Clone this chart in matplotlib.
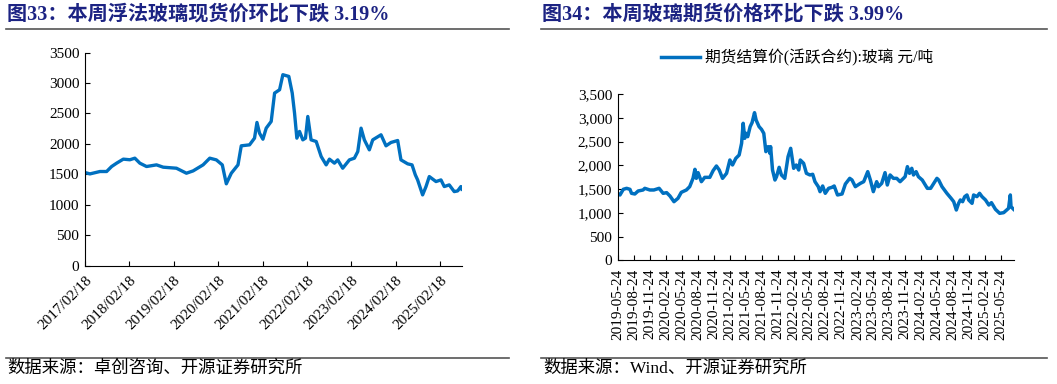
import matplotlib
matplotlib.use("Agg")
import matplotlib.pyplot as plt
import matplotlib.dates as mdates
import matplotlib.transforms as mtransforms
from matplotlib.lines import Line2D
from matplotlib.ticker import FuncFormatter
import pandas as pd

# 图33: 浮法玻璃现货价 (元/吨)
spot_dates = [
    "2017-02-18", "2017-03-31", "2017-06-21", "2017-08-15", "2017-09-25", "2017-11-05",
    "2017-12-30", "2018-02-22", "2018-04-04", "2018-05-15", "2018-07-09", "2018-09-29",
    "2018-11-23", "2019-03-12", "2019-06-02", "2019-07-27", "2019-10-17", "2019-12-11",
    "2020-02-03", "2020-03-23", "2020-04-25", "2020-06-05", "2020-07-30", "2020-08-26",
    "2020-11-02", "2020-12-13", "2021-01-02", "2021-01-23", "2021-02-20", "2021-03-19",
    "2021-04-29", "2021-05-27", "2021-07-07", "2021-08-03", "2021-09-21", "2021-10-19",
    "2021-11-07", "2021-11-26", "2021-12-18", "2022-01-14", "2022-02-05", "2022-02-24",
    "2022-03-23", "2022-05-04", "2022-06-14", "2022-07-25", "2022-08-21", "2022-10-01",
    "2022-10-28", "2022-12-08", "2023-02-01", "2023-03-14", "2023-04-11", "2023-05-08",
    "2023-06-04", "2023-07-15", "2023-08-12", "2023-10-19", "2023-11-29", "2024-01-09",
    "2024-03-04", "2024-03-31", "2024-05-25", "2024-06-30", "2024-07-27", "2024-08-15",
    "2024-09-25", "2024-10-23", "2024-11-19", "2025-01-13", "2025-02-23", "2025-03-22",
    "2025-05-02", "2025-06-12", "2025-07-10", "2025-08-06", "2025-08-14",
]
spot_price = [
    1530, 1508, 1547, 1547, 1629, 1684,
    1750, 1740, 1766, 1684, 1629, 1656,
    1618, 1601, 1519, 1557, 1656, 1766,
    1738, 1656, 1345, 1519, 1656, 1969,
    1985, 2095, 2353, 2177, 2078, 2259,
    2369, 2835, 2890, 3137, 3109, 2835,
    2506, 2095, 2205, 2067, 2095, 2451,
    2067, 2040, 1793, 1656, 1750, 1684,
    1738, 1601, 1738, 1766, 1875, 2259,
    2067, 1903, 2067, 2150, 1969, 2024,
    2056, 1738, 1673, 1656, 1492, 1409,
    1163, 1300, 1464, 1382, 1409, 1300,
    1327, 1217, 1228, 1300, 1256,
]
spot_ticks = ["2017-02-18", "2018-02-18", "2019-02-18", "2020-02-18", "2021-02-18",
              "2022-02-18", "2023-02-18", "2024-02-18", "2025-02-18"]

# 图34: 期货结算价(活跃合约):玻璃 元/吨
fut_dates = [
    "2019-05-24", "2019-06-06", "2019-06-25", "2019-07-14", "2019-08-02", "2019-08-11",
    "2019-08-30", "2019-09-18", "2019-10-16", "2019-10-26", "2019-11-24", "2019-12-17",
    "2020-01-16", "2020-02-08", "2020-02-28", "2020-03-18", "2020-04-10", "2020-05-03",
    "2020-05-22", "2020-06-20", "2020-07-09", "2020-07-28", "2020-08-08", "2020-08-16",
    "2020-08-26", "2020-09-14", "2020-10-03", "2020-11-01", "2020-11-20", "2020-12-09",
    "2020-12-25", "2021-01-13", "2021-02-05", "2021-02-24", "2021-03-11", "2021-03-30",
    "2021-04-18", "2021-05-02", "2021-05-11", "2021-05-20", "2021-05-28", "2021-06-06",
    "2021-06-20", "2021-07-01", "2021-07-15", "2021-07-24", "2021-08-10", "2021-08-24",
    "2021-09-06", "2021-09-18", "2021-10-01", "2021-10-11", "2021-10-15", "2021-10-26",
    "2021-11-09", "2021-11-18", "2021-12-03", "2021-12-16", "2022-01-04", "2022-01-23",
    "2022-02-07", "2022-02-24", "2022-03-11", "2022-03-25", "2022-04-03", "2022-04-22",
    "2022-05-08", "2022-05-28", "2022-06-13", "2022-06-26", "2022-07-15", "2022-07-25",
    "2022-08-09", "2022-08-24", "2022-09-12", "2022-10-01", "2022-10-14", "2022-11-02",
    "2022-11-28", "2022-12-17", "2023-01-11", "2023-01-24", "2023-02-12", "2023-03-13",
    "2023-04-01", "2023-04-24", "2023-05-09", "2023-05-26", "2023-06-14", "2023-06-24",
    "2023-07-13", "2023-08-01", "2023-08-14", "2023-08-30", "2023-09-18", "2023-10-07",
    "2023-10-26", "2023-11-24", "2023-12-07", "2023-12-19", "2024-01-01", "2024-01-11",
    "2024-01-26", "2024-02-08", "2024-03-01", "2024-03-30", "2024-04-18", "2024-05-06",
    "2024-05-24", "2024-06-03", "2024-06-22", "2024-07-20", "2024-08-13", "2024-08-28",
    "2024-09-12", "2024-09-25", "2024-10-05", "2024-10-18", "2024-10-30", "2024-11-12",
    "2024-11-22", "2024-12-11", "2024-12-20", "2025-01-08", "2025-01-23", "2025-02-06",
    "2025-02-26", "2025-03-17", "2025-04-01", "2025-04-24", "2025-05-18", "2025-06-10",
    "2025-07-08", "2025-07-18", "2025-07-22", "2025-08-06",
]
fut_price = [
    1410, 1375, 1494, 1515, 1494, 1410,
    1396, 1459, 1480, 1515, 1480, 1480,
    1515, 1410, 1424, 1354, 1234, 1305,
    1431, 1480, 1550, 1725, 1915, 1725,
    1845, 1655, 1746, 1746, 1887, 1985,
    1901, 1725, 1831, 2111, 2006, 2146,
    2216, 2462, 2883, 2567, 2672, 2602,
    2813, 2897, 3107, 2953, 2813, 2756,
    2672, 2287, 2392, 2251, 2392, 1901,
    1690, 1760, 1957, 1796, 1725, 2181,
    2357, 1936, 2006, 1901, 2111, 2041,
    1831, 1796, 1810, 1655, 1550, 1445,
    1564, 1410, 1515, 1536, 1564, 1375,
    1396, 1606, 1725, 1690, 1550, 1620,
    1655, 1866, 1690, 1445, 1655, 1550,
    1620, 1845, 1585, 1796, 1725, 1725,
    1655, 1760, 1971, 1831, 1936, 1796,
    1866, 1760, 1690, 1515, 1515, 1620,
    1725, 1690, 1550, 1410, 1305, 1234,
    1059, 1199, 1270, 1234, 1340, 1375,
    1270, 1199, 1375, 1340, 1410, 1340,
    1270, 1164, 1213, 1073, 989, 1003,
    1094, 1375, 1129, 1073,
]
fut_ticks = [
    "2019-05-24", "2019-08-24", "2019-11-24", "2020-02-24", "2020-05-24", "2020-08-24",
    "2020-11-24", "2021-02-24", "2021-05-24", "2021-08-24", "2021-11-24", "2022-02-24",
    "2022-05-24", "2022-08-24", "2022-11-24", "2023-02-24", "2023-05-24", "2023-08-24",
    "2023-11-24", "2024-02-24", "2024-05-24", "2024-08-24", "2024-11-24", "2025-02-24",
    "2025-05-24",
]

TITLE_LEFT = "图33：本周浮法玻璃现货价环比下跌 3.19%"
TITLE_RIGHT = "图34：本周玻璃期货价格环比下跌 3.99%"
SOURCE_LEFT = "数据来源：卓创咨询、开源证券研究所"
SOURCE_RIGHT = "数据来源：Wind、开源证券研究所"
LEGEND_LABEL = "期货结算价(活跃合约):玻璃 元/吨"

FONTS = ["Liberation Serif", "Noto Sans CJK SC"]
plt.rcParams["font.family"] = FONTS
LINE_COLOR = "#0070C0"
NAVY = "#1C2383"

fig = plt.figure(figsize=(10.57, 3.84), dpi=100)

# ---- left chart
ax1 = fig.add_axes([0.0804, 0.3081, 0.3567, 0.5549])
ax1.plot(pd.to_datetime(spot_dates), spot_price, color=LINE_COLOR, lw=2.4)
ax1.set_ylim(0, 3500)
ax1.set_yticks(range(0, 3501, 500))
ax1.set_xlim(pd.Timestamp("2017-02-18"), pd.Timestamp("2025-08-15"))
ax1.set_xticks(pd.to_datetime(spot_ticks))
ax1.xaxis.set_major_formatter(mdates.DateFormatter("%Y/%m/%d"))
shift = mtransforms.ScaledTranslation(3 / 100, -5 / 100, fig.dpi_scale_trans)
for lab in ax1.get_xticklabels():
    lab.set_rotation(45)
    lab.set_ha("right")
    lab.set_va("top")
    lab.set_rotation_mode("anchor")
    lab.set_fontsize(12)
    lab.set_transform(lab.get_transform() + shift)

# ---- right chart
ax2 = fig.add_axes([0.5844, 0.3221, 0.3749, 0.4331])
ax2.plot(pd.to_datetime(fut_dates), fut_price, color=LINE_COLOR, lw=2.5,
         label=LEGEND_LABEL)
ax2.set_ylim(0, 3500)
ax2.set_yticks(range(0, 3501, 500))
ax2.yaxis.set_major_formatter(FuncFormatter(lambda v, p: f"{v:,.0f}"))
ax2.set_xlim(pd.Timestamp("2019-05-24"), pd.Timestamp("2025-08-08"))
ax2.set_xticks(pd.to_datetime(fut_ticks))
ax2.xaxis.set_major_formatter(mdates.DateFormatter("%Y-%m-%d"))
for lab in ax2.get_xticklabels():
    lab.set_rotation(90)
ax2.legend(loc="center", bbox_to_anchor=(0.452, 1.215), frameon=False,
           handlelength=2.5, handletextpad=0.3, prop={"family": FONTS, "size": 11.3})

for ax in (ax1, ax2):
    ax.spines["top"].set_visible(False)
    ax.spines["right"].set_visible(False)
    ax.tick_params(direction="in", length=3.5, width=0.8, labelsize=11, pad=4)
    ax.tick_params(axis="x", pad=6)

# ---- titles, rules, sources
fig.text(0.007, 0.962, TITLE_LEFT, fontsize=14.5, fontweight="bold", color=NAVY,
         va="center", ha="left", family=FONTS)
fig.text(0.513, 0.962, TITLE_RIGHT, fontsize=14.5, fontweight="bold", color=NAVY,
         va="center", ha="left", family=FONTS)
for x0, x1 in [(0.006, 0.482), (0.512, 0.991)]:
    for y in (0.924, 0.069):
        fig.add_artist(Line2D([x0, x1], [y, y], color="#555555", lw=1.2))
fig.text(0.007, 0.040, SOURCE_LEFT, fontsize=12.5, va="center", ha="left", family=FONTS)
fig.text(0.514, 0.040, SOURCE_RIGHT, fontsize=12.5, va="center", ha="left", family=FONTS)

fig.savefig("out.png", dpi=100)
